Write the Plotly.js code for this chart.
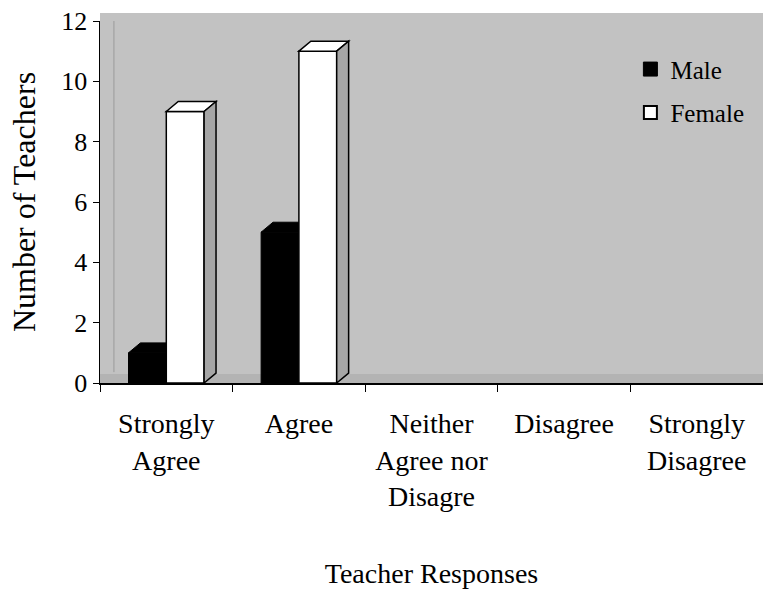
<!DOCTYPE html>
<html>
<head>
<meta charset="utf-8">
<script src="https://cdn.plot.ly/plotly-3.0.1.min.js"></script>
<style>html,body{margin:0;padding:0;background:#fff;}#chart{width:763px;height:590px;}</style>
</head>
<body>
<div id="chart"></div>
<script>
const categories = ["Strongly<br>Agree", "Agree", "Neither<br>Agree nor<br>Disagre", "Disagree", "Strongly<br>Disagree"];
const maleValues = [1, 5, 0, 0, 0];
const femaleValues = [9, 11, 0, 0, 0];
const yTicks = [0, 2, 4, 6, 8, 10, 12];

const FONT = "Liberation Serif, Times New Roman, serif";
const bargap = 0.43;
const barW = (1 - bargap) / 2;   // width of one bar in category units
const dx = 0.09;                  // 3D depth (category units)
const dy = 0.33;                  // 3D depth (value units)

const shapes = [];
// background wall extended slightly above plot
shapes.push({type: "rect", xref: "paper", yref: "paper", x0: 0, x1: 1, y0: 0, y1: 1.022,
  fillcolor: "#c2c2c2", line: {width: 0}, layer: "below"});
// floor band
shapes.push({type: "rect", xref: "paper", yref: "y", x0: 0.0, x1: 1, y0: 0, y1: 0.3,
  fillcolor: "#b3b3b3", line: {width: 0}, layer: "below"});
// back wall left edge
shapes.push({type: "line", xref: "paper", yref: "paper", x0: 0.021, x1: 0.021, y0: 0.03, y1: 1.0,
  line: {color: "#9a9a9a", width: 1}, layer: "below"});

function p(x, y) { return x + "," + y; }
categories.forEach((c, i) => {
  const m = maleValues[i];
  if (m > 0) {
    const x0 = i - barW, x1 = i;
    shapes.push({type: "path", xref: "x", yref: "y", layer: "below",
      path: "M" + p(x0, m) + " L" + p(x0 + dx, m + dy) + " L" + p(x1 + dx, m + dy) + " L" + p(x1, m) + " Z",
      fillcolor: "#000", line: {color: "#000", width: 1}});
  }
  const f = femaleValues[i];
  if (f > 0) {
    const x0 = i, x1 = i + barW;
    shapes.push({type: "path", xref: "x", yref: "y", layer: "above",
      path: "M" + p(x0, f) + " L" + p(x0 + dx, f + dy) + " L" + p(x1 + dx, f + dy) + " L" + p(x1, f) + " Z",
      fillcolor: "#ffffff", line: {color: "#000", width: 1.5}});
    shapes.push({type: "path", xref: "x", yref: "y", layer: "above",
      path: "M" + p(x1, 0) + " L" + p(x1 + dx, dy) + " L" + p(x1 + dx, f + dy) + " L" + p(x1, f) + " Z",
      fillcolor: "#a6a6a6", line: {color: "#000", width: 1.5}});
  }
});

const data = [
  {type: "bar", name: "Male", x: categories, y: maleValues, showlegend: false, hoverinfo: "skip",
   marker: {color: "#000000", line: {color: "#000000", width: maleValues.map(v => v > 0 ? 1 : 0)}}},
  {type: "bar", name: "Female", x: categories, y: femaleValues, showlegend: false,
   marker: {color: "#ffffff", line: {color: "#000000", width: femaleValues.map(v => v > 0 ? 1.5 : 0)}}},
  // legend entries with larger square keys
  {type: "scatter", mode: "markers", name: "Male", x: [null], y: [null], legendgroup: "m",
   marker: {symbol: "square", size: 14, color: "#000000", line: {color: "#000", width: 1}}},
  {type: "scatter", mode: "markers", name: "Female", x: [null], y: [null], legendgroup: "f",
   marker: {symbol: "square", size: 13, color: "#ffffff", line: {color: "#000", width: 2}}}
];

const layout = {
  width: 763, height: 590,
  margin: {l: 100, r: 0, t: 21, b: 207, autoexpand: false},
  paper_bgcolor: "#ffffff",
  plot_bgcolor: "#c2c2c2",
  font: {family: FONT, color: "#000", size: 26},
  barmode: "group",
  bargap: bargap,
  bargroupgap: 0,
  showlegend: true,
  legend: {x: 0.800, y: 0.93, xanchor: "left", yanchor: "top", bgcolor: "rgba(0,0,0,0)",
           font: {family: FONT, size: 25}, traceorder: "grouped", tracegroupgap: 8, itemwidth: 30},
  xaxis: {
    type: "category", tickson: "boundaries", ticks: "outside", ticklen: 7, tickcolor: "#000",
    showline: true, linecolor: "#000", linewidth: 1.5, showgrid: false, zeroline: false,
    tickfont: {family: FONT, size: 28}, ticklabelstandoff: 15, automargin: false,
    title: {text: "Teacher Responses", font: {family: FONT, size: 28}, standoff: 52}
  },
  yaxis: {
    range: [0, 12], tickvals: yTicks, ticks: "outside", ticklen: 6, tickcolor: "#000",
    showline: true, linecolor: "#000", linewidth: 1.5, showgrid: false, zeroline: false,
    tickfont: {family: FONT, size: 26}, automargin: false,
    title: {text: "Number of Teachers", font: {family: FONT, size: 32}, standoff: 16}
  },
  shapes: shapes
};

Plotly.newPlot("chart", data, layout, {displayModeBar: false, staticPlot: true});
</script>
</body>
</html>
